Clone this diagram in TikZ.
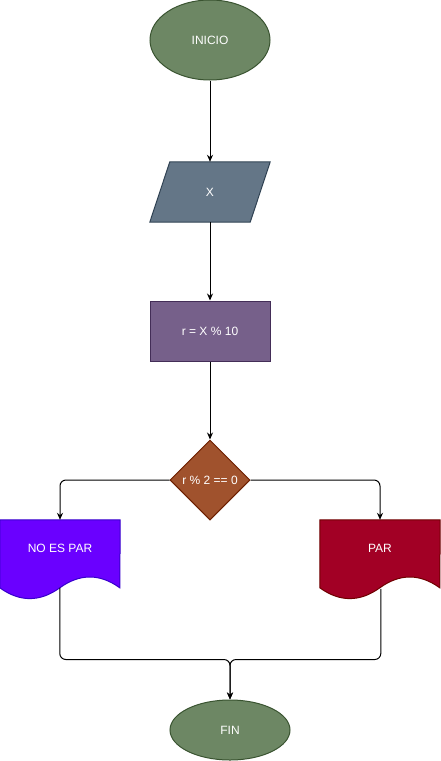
\documentclass[tikz,border=0pt]{standalone}
\usepackage{fontspec}
\setmainfont{Liberation Sans}
\usetikzlibrary{shapes.geometric,arrows.meta,calc}
\definecolor{greenF}{HTML}{6D8764}\definecolor{greenS}{HTML}{3A5431}
\definecolor{slateF}{HTML}{647687}\definecolor{slateS}{HTML}{314354}
\definecolor{violF}{HTML}{76608A}\definecolor{violS}{HTML}{432D57}
\definecolor{brownF}{HTML}{A0522D}\definecolor{brownS}{HTML}{6D1F00}
\definecolor{indF}{HTML}{6A00FF}\definecolor{indS}{HTML}{3700CC}
\definecolor{redF}{HTML}{A20025}\definecolor{redS}{HTML}{6F0000}
\tikzset{
  lbl/.style={text=white,font=\fontsize{12}{14}\selectfont,inner sep=0pt},
  term/.style={ellipse,lbl,minimum width=120pt,minimum height=#1,line width=1pt,fill=greenF,draw=greenS},
  box/.style={rectangle,inner sep=0pt,minimum width=120pt,minimum height=#1},
  conn/.style={line width=1pt,-{Stealth[length=7pt,width=6pt]},rounded corners=6pt},
  docshape/.style={line width=1pt}
}
\begin{document}
\begin{tikzpicture}[x=1pt,y=-1pt]
\useasboundingbox (0,0) rectangle (441,761);
% INICIO
\node[term=80pt] (inicio) at (210,40) {INICIO};
% X parallelogram
\node[box=60pt] (x) at (210,192) {};
\draw[line width=1pt,fill=slateF,draw=slateS]
  ($(x.north west)+(20,0)$) -- (x.north east) -- ($(x.south east)+(-20,0)$) -- (x.south west) -- cycle;
\node[lbl] (xlbl) at (x.center) {X};
% process
\node[box=60pt,lbl,draw=violS,fill=violF,line width=1pt] (proc) at (210,331) {r = X \% 10};
% decision
\node[diamond,lbl,aspect=1,minimum width=80pt,minimum height=80pt,draw=brownS,fill=brownF,line width=1pt] (dec) at (210,480) {r \% 2 == 0};
% NO ES PAR document
\node[box=80pt] (noes) at (60,560) {};
\draw[docshape,fill=indF,draw=indS]
  (noes.north west) -- (noes.north east) -- ($(noes.north west)+(120,68)$)
  .. controls ($(noes.north west)+(100,53.6)$) and ($(noes.north west)+(80,53.6)$) .. ($(noes.north west)+(60,68)$)
  .. controls ($(noes.north west)+(40,82.4)$) and ($(noes.north west)+(20,82.4)$) .. ($(noes.north west)+(0,68)$) -- cycle;
\node[lbl] (noeslbl) at (60,548) {NO ES PAR};
% PAR document
\node[box=80pt] (par) at (380,560) {};
\draw[docshape,fill=redF,draw=redS]
  (par.north west) -- (par.north east) -- ($(par.north west)+(120,68)$)
  .. controls ($(par.north west)+(100,53.6)$) and ($(par.north west)+(80,53.6)$) .. ($(par.north west)+(60,68)$)
  .. controls ($(par.north west)+(40,82.4)$) and ($(par.north west)+(20,82.4)$) .. ($(par.north west)+(0,68)$) -- cycle;
\node[lbl] (parlbl) at (380,548) {PAR};
% FIN
\node[term=60pt] (fin) at (230,730) {FIN};
% connectors
\coordinate (noesbot) at ($(noes.north west)+(60,68)$);
\coordinate (parbot) at ($(par.north west)+(61,69)$);
\coordinate (join) at ($(fin.north)+(0,-40)$);
\draw[conn] (inicio) -- (x.north);
\draw[conn] (x.south) -- (proc);
\draw[conn] (proc) -- (dec);
\draw[conn] (dec.west) -| (noes.north);
\draw[conn] (dec.east) -| (par.north);
\draw[conn] (noesbot) |- (join) -- (fin.north);
\draw[conn] (parbot) |- (join) -- (fin.north);
\end{tikzpicture}
\end{document}
